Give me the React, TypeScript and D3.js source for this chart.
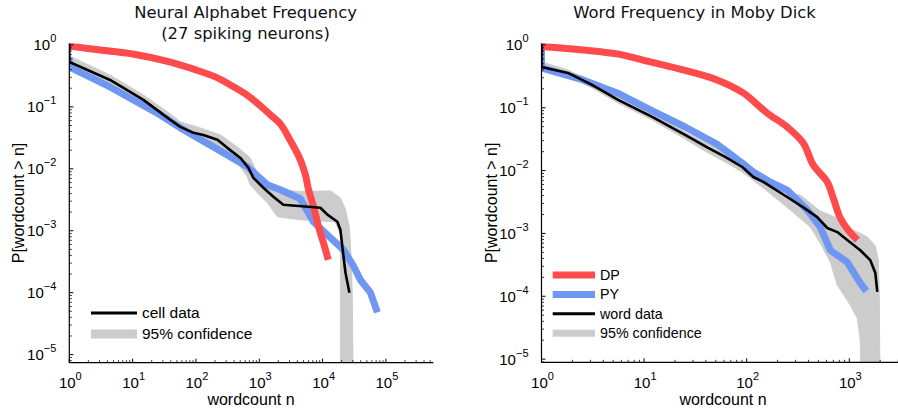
import React from 'react';
import * as d3 from 'd3';

type Pt = [number, number];

// ---------- Neural alphabet frequency (left panel) ----------
const neuralDP: Pt[] = [
  [1, 0.96], [3.09, 0.83], [10, 0.716], [32.9, 0.552], [100, 0.395], [202, 0.305],
  [350, 0.226], [603, 0.162], [1000, 0.108], [1500, 0.0743], [2150, 0.0532],
  [3100, 0.0285], [4450, 0.014], [5350, 0.008], [6000, 0.0046], [7160, 0.0025],
  [8900, 0.00104], [10300, 0.00064], [12300, 0.00034],
];
const neuralPY: Pt[] = [
  [1, 0.62], [1, 0.44], [4.4, 0.21], [27.4, 0.074], [56.7, 0.0458], [188, 0.0226],
  [648, 0.0108], [1343, 0.0055], [2150, 0.0046], [4450, 0.00328], [7160, 0.0014],
  [13300, 0.00077], [21400, 0.00049], [30700, 0.00027], [39600, 0.00016],
  [56900, 0.0001], [73400, 0.000048],
];
const neuralCell: Pt[] = [
  [1, 1], [1, 0.53], [4.4, 0.272], [14.8, 0.13], [39.4, 0.0617], [56.7, 0.0476],
  [91, 0.0381], [131, 0.0353], [218, 0.0294], [313, 0.0218], [504, 0.015],
  [673, 0.0104], [807, 0.00716], [1160, 0.00494], [1670, 0.00353], [2400, 0.00263],
  [9230, 0.00235], [11900, 0.00182], [17100, 0.0014], [19100, 0.00104],
  [21400, 0.00038], [23000, 0.00021], [26500, 0.0001],
];
const neuralConfUpper: Pt[] = [
  [1, 0.665], [4.4, 0.328], [14.8, 0.156], [39.4, 0.077], [56.7, 0.0573], [117, 0.0458],
  [243, 0.0353], [451, 0.0226], [720, 0.015], [933, 0.0086], [1500, 0.0055],
  [2150, 0.0046], [4450, 0.0043], [13300, 0.0044], [19100, 0.0034], [23000, 0.0022],
  [26500, 0.00112], [28500, 0.00034], [29500, 0.000077], [30700, 0.000001],
];
const neuralConfLower: Pt[] = [
  [1, 0.46], [4.4, 0.226], [14.8, 0.108], [39.4, 0.051], [56.7, 0.0426], [117, 0.0328],
  [218, 0.0226], [451, 0.0125], [648, 0.0074], [720, 0.0055], [933, 0.0041],
  [1343, 0.00283], [1930, 0.00168], [4450, 0.0015], [15800, 0.0014], [19100, 0.00086],
  [19100, 0.000001],
];

// ---------- Word frequency in Moby Dick (right panel) ----------
const mobyDP: Pt[] = [
  [1, 0.946], [2.54, 0.832], [5.46, 0.719], [11.5, 0.536], [24, 0.4], [51.5, 0.277],
  [92.4, 0.172], [158, 0.0826], [248, 0.0494], [356, 0.0275], [445, 0.0123],
  [610, 0.0066], [698, 0.00366], [817, 0.00176], [977, 0.00113], [1200, 0.000785],
];
const mobyPY: Pt[] = [
  [1, 0.9], [1, 0.43], [2.54, 0.277], [5.46, 0.172], [11.5, 0.0923], [25.1, 0.0494],
  [52.7, 0.0256], [90.4, 0.0132], [116, 0.0095], [169, 0.0066], [248, 0.0049],
  [389, 0.00236], [521, 0.00126], [653, 0.00054], [955, 0.00035], [1280, 0.000162],
  [1465, 0.000121],
];
const mobyWord: Pt[] = [
  [1, 1], [1, 0.446], [1.81, 0.358], [3.11, 0.231], [5.58, 0.133], [12, 0.0714],
  [25.1, 0.0369], [42.1, 0.0229], [61.7, 0.0165], [90.4, 0.0114], [116, 0.0079],
  [145, 0.0066], [248, 0.0038], [356, 0.0026], [487, 0.00182], [610, 0.00122],
  [764, 0.00105], [955, 0.000785], [1280, 0.00054], [1600, 0.000377],
  [1795, 0.000234], [1876, 0.000117],
];
const mobyConfUpper: Pt[] = [
  [1, 0.536], [1.81, 0.4], [3.11, 0.258], [5.58, 0.149], [12, 0.0796], [25.1, 0.0412],
  [42.1, 0.0265], [61.7, 0.0191], [90.4, 0.0132], [145, 0.0076], [248, 0.00456],
  [333, 0.00408], [521, 0.00227], [764, 0.00176], [1094, 0.00113], [1500, 0.00088],
  [1795, 0.00063], [1920, 0.000377], [1963, 0.000087], [2005, 0.000001],
];
const mobyConfLower: Pt[] = [
  [1, 0.4], [1.81, 0.321], [3.11, 0.207], [5.58, 0.119], [12, 0.064], [25.1, 0.0318],
  [42.1, 0.0191], [61.7, 0.0137], [90.4, 0.0095], [145, 0.0053], [248, 0.0026],
  [417, 0.00126], [521, 0.0007], [653, 0.00035], [764, 0.000151], [1023, 0.0000724],
  [1197, 0.0000447], [1280, 0.00002], [1340, 0.000001],
];

const neuralXTicks = [1, 10, 100, 1e3, 1e4, 1e5];
const mobyXTicks = [1, 10, 100, 1e3];
const yTicks = [1, 1e-1, 1e-2, 1e-3, 1e-4, 1e-5];

const RED = '#ff4b4b';
const BLUE = '#6f97f2';
const GREY = '#cccccc';
const TICK_FONT = 'Liberation Sans, Arial, Helvetica, sans-serif';
const TITLE_FONT = 'DejaVu Sans, Verdana, sans-serif';

function minorTicks(lo: number, hi: number) {
  const out: number[] = [];
  for (let e = Math.floor(Math.log10(lo)); e <= Math.ceil(Math.log10(hi)); e++) {
    for (let m = 2; m < 10; m++) {
      const v = m * Math.pow(10, e);
      if (v >= lo && v <= hi) out.push(v);
    }
  }
  return out;
}

function expLabel(v: number) {
  const e = Math.round(Math.log10(v));
  return e < 0 ? '\u2212' + Math.abs(e) : String(e);
}

type LegendItem = { label: string; color: string; width: number };

type PanelProps = {
  id: string;
  box: { x0: number; x1: number; y0: number; y1: number };
  xDomain: [number, number];
  yDomain: [number, number];
  xTicks: number[];
  dp?: Pt[];
  py?: Pt[];
  data: Pt[];
  upper: Pt[];
  lower: Pt[];
  titles: string[];
  titleX: number;
  xlabelX: number;
  ylabelX: number;
  legend: LegendItem[];
  legendX: number;
  legendY: number;
  legendGap: number;
  legendLen: number;
  legendFont: number;
};

function Panel(p: PanelProps) {
  const { box } = p;
  const x = d3.scaleLog().domain(p.xDomain).range([box.x0, box.x1]);
  const y = d3.scaleLog().domain(p.yDomain).range([box.y1, box.y0]);
  const line = d3.line<Pt>().x(d => x(d[0])).y(d => y(d[1]));
  // the model curves are smooth, so round them off a little
  const smooth = d3.line<Pt>().x(d => x(d[0])).y(d => y(d[1])).curve(d3.curveCatmullRom.alpha(0.5));
  const bandPath = line(p.upper.concat(p.lower.slice().reverse())) + 'Z';
  const clipId = 'clip-' + p.id;

  return (
    <g>
      <defs>
        <clipPath id={clipId}>
          <rect x={box.x0} y={box.y0} width={box.x1 - box.x0} height={box.y1 - box.y0} />
        </clipPath>
      </defs>

      {/* series */}
      <g clipPath={`url(#${clipId})`}>
        <path d={bandPath} fill={GREY} stroke={GREY} strokeWidth={1} strokeLinejoin="round" />
        {p.py && <path d={line(p.py) || ''} fill="none" stroke={BLUE} strokeWidth={7} strokeLinejoin="round" />}
        {p.dp && <path d={smooth(p.dp) || ''} fill="none" stroke={RED} strokeWidth={7} strokeLinejoin="round" />}
        <path d={line(p.data) || ''} fill="none" stroke="#000" strokeWidth={2.6} strokeLinejoin="round" />
      </g>

      {/* axes */}
      <line x1={box.x0} x2={box.x0} y1={box.y0} y2={box.y1} stroke="#000" strokeWidth={1.2} />
      <line x1={box.x0} x2={box.x1} y1={box.y1} y2={box.y1} stroke="#000" strokeWidth={1.2} />

      {minorTicks(p.xDomain[0], p.xDomain[1]).map(v => (
        <line key={'xm' + v} x1={x(v)} x2={x(v)} y1={box.y1} y2={box.y1 - 2.5} stroke="#000" strokeWidth={0.8} />
      ))}
      {minorTicks(p.yDomain[0], p.yDomain[1]).map(v => (
        <line key={'ym' + v} x1={box.x0} x2={box.x0 + 2.5} y1={y(v)} y2={y(v)} stroke="#000" strokeWidth={0.8} />
      ))}
      {p.xTicks.map(v => (
        <g key={'x' + v}>
          <line x1={x(v)} x2={x(v)} y1={box.y1} y2={box.y1 - 4} stroke="#000" strokeWidth={1} />
          <text x={x(v) + 1} y={388} textAnchor="middle" fontFamily={TICK_FONT} fill="#000">
            <tspan fontSize={15}>10</tspan>
            <tspan fontSize={11} dy={-8}>{expLabel(v)}</tspan>
          </text>
        </g>
      ))}
      {yTicks.map(v => (
        <g key={'y' + v}>
          <line x1={box.x0} x2={box.x0 + 4} y1={y(v)} y2={y(v)} stroke="#000" strokeWidth={1} />
          <text x={box.x0 - 13} y={y(v) + 5.5} textAnchor="end" fontFamily={TICK_FONT} fill="#000">
            <tspan fontSize={15}>10</tspan>
            <tspan fontSize={11} dy={-8}>{expLabel(v)}</tspan>
          </text>
        </g>
      ))}

      {/* labels */}
      <text x={p.xlabelX} y={405} textAnchor="middle" fontFamily={TICK_FONT} fontSize={16}>wordcount n</text>
      <text
        transform={`translate(${p.ylabelX},${(box.y0 + box.y1) / 2}) rotate(-90)`}
        textAnchor="middle" fontFamily={TICK_FONT} fontSize={16}
      >P[wordcount &gt; n]</text>
      {p.titles.map((t, i) => (
        <text key={t} x={p.titleX} y={18 + i * 21} textAnchor="middle" fontFamily={TITLE_FONT} fontSize={16.4} fill="#111">{t}</text>
      ))}

      {/* legend */}
      {p.legend.map((item, i) => {
        const ly = p.legendY + i * p.legendGap;
        return (
          <g key={item.label}>
            <line x1={p.legendX} x2={p.legendX + p.legendLen} y1={ly} y2={ly} stroke={item.color} strokeWidth={item.width} />
            <text x={p.legendX + p.legendLen + 5} y={ly + 5} fontFamily={TICK_FONT} fontSize={p.legendFont}>{item.label}</text>
          </g>
        );
      })}
    </g>
  );
}

export default function App() {
  return (
    <svg width={898} height={413} style={{ position: 'absolute', left: 0, top: 0, background: '#fff' }}>
      <rect width={898} height={413} fill="#fff" />
      <Panel
        id="neural"
        box={{ x0: 69.3, x1: 433.3, y0: 43.3, y1: 362.7 }}
        xDomain={[1, 5.6e5]}
        yDomain={[7.4e-6, 1.064]}
        xTicks={neuralXTicks}
        dp={neuralDP}
        py={neuralPY}
        data={neuralCell}
        upper={neuralConfUpper}
        lower={neuralConfLower}
        titles={['Neural Alphabet Frequency', '(27 spiking neurons)']}
        titleX={245.5}
        xlabelX={251}
        ylabelX={24}
        legend={[
          { label: 'cell data', color: '#000', width: 3 },
          { label: '95% confidence', color: GREY, width: 9 },
        ]}
        legendX={91}
        legendY={313}
        legendGap={21}
        legendLen={46}
        legendFont={15.5}
      />
      <Panel
        id="moby"
        box={{ x0: 541.5, x1: 905.1, y0: 43.3, y1: 362.3 }}
        xDomain={[1, 3500]}
        yDomain={[8.9e-6, 1.06]}
        xTicks={mobyXTicks}
        dp={mobyDP}
        py={mobyPY}
        data={mobyWord}
        upper={mobyConfUpper}
        lower={mobyConfLower}
        titles={['Word Frequency in Moby Dick']}
        titleX={694.5}
        xlabelX={723}
        ylabelX={497}
        legend={[
          { label: 'DP', color: RED, width: 7 },
          { label: 'PY', color: BLUE, width: 7 },
          { label: 'word data', color: '#000', width: 3 },
          { label: '95% confidence', color: GREY, width: 7 },
        ]}
        legendX={552.7}
        legendY={275}
        legendGap={19.4}
        legendLen={42.3}
        legendFont={14.3}
      />
    </svg>
  );
}
